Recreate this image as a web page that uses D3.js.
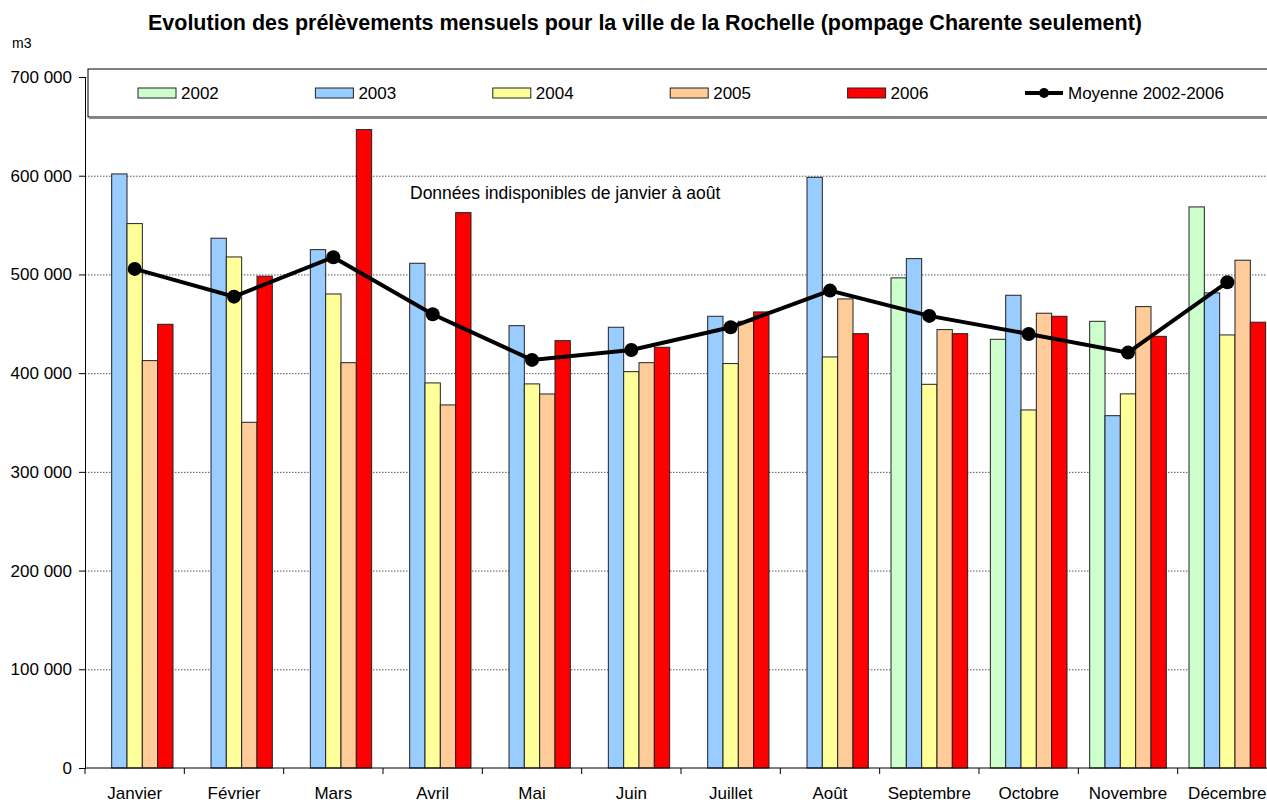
<!DOCTYPE html>
<html>
<head>
<meta charset="utf-8">
<script src="https://cdn.jsdelivr.net/npm/d3@7"></script>
<style>
  body { margin: 0; background: #fff; }
  svg { font-family: "Liberation Sans", Arial, sans-serif; display: block; }
</style>
</head>
<body>
<svg></svg>
<script>
var months = ["Janvier", "Février", "Mars", "Avril", "Mai", "Juin", "Juillet", "Août", "Septembre", "Octobre", "Novembre", "Décembre"];
var years = ["2002", "2003", "2004", "2005", "2006"];

var v2002 = [null, null, null, null, null, null, null, null, 496500, 434300, 452500, 568400];
var v2003 = [601800, 536700, 525100, 511300, 448100, 446500, 457600, 598400, 516000, 478900, 356900, 481300];
var v2004 = [551500, 517700, 480200, 390100, 389100, 401500, 409700, 416400, 388700, 362700, 379000, 438700];
var v2005 = [412700, 350200, 410600, 367800, 378900, 410600, 452500, 475200, 444100, 460700, 467400, 514400];
var v2006 = [449500, 498200, 646700, 562600, 432900, 426200, 462000, 440000, 440000, 457600, 437300, 451600];
var moyenne = [505600, 477500, 517400, 459700, 413400, 423500, 446500, 483600, 458000, 439700, 420800, 492100];
var yTicks = [0, 100000, 200000, 300000, 400000, 500000, 600000, 700000];

var series = [v2002, v2003, v2004, v2005, v2006];
var colors = ["#CCFFCC", "#99CCFF", "#FFFF99", "#FFCC99", "#FF0000"];

var width = 1267;
var height = 800;
var plotLeft = 85, plotRight = 1277, plotTop = 77, plotBottom = 768;

var svg = d3.select('svg')
  .attr('width', width)
  .attr('height', height);

var fr = d3.formatLocale({decimal: ",", thousands: " ", grouping: [3], currency: ["", " €"]});
var fmt = fr.format(",d");

var x0 = d3.scaleBand()
  .domain(months)
  .range([plotLeft, plotRight])
  .padding(0);

var x1 = d3.scaleBand()
  .domain(years)
  .range([0, x0.bandwidth()])
  .paddingInner(0)
  .paddingOuter(0.74);

var y = d3.scaleLinear()
  .domain([0, 700000])
  .range([plotBottom, plotTop]);

// dotted gridlines
svg.append('g')
  .attr('transform', 'translate(' + plotLeft + ',0)')
  .call(d3.axisLeft(y).tickValues(yTicks.slice(1)).tickSize(-(width - plotLeft)).tickFormat(''))
  .call(g => g.select('.domain').remove())
  .selectAll('line')
    .attr('stroke', '#555')
    .attr('stroke-dasharray', '1.5,1.5');

// bars
var table = months.map((m, i) => years.map((yr, j) => ({month: m, year: yr, j: j, value: series[j][i]})));

svg.append('g')
  .selectAll('g')
  .data(table)
  .enter()
  .append('g')
    .attr('transform', (d, i) => 'translate(' + x0(months[i]) + ',0)')
  .selectAll('rect')
  .data(d => d.filter(e => e.value !== null))
  .enter()
  .append('rect')
    .attr('x', d => x1(d.year))
    .attr('y', d => y(d.value))
    .attr('width', x1.bandwidth())
    .attr('height', d => y(0) - y(d.value))
    .attr('fill', d => colors[d.j])
    .attr('stroke', '#222')
    .attr('stroke-width', 1);

// y axis
var yAxis = svg.append('g')
  .attr('transform', 'translate(' + plotLeft + ',0)')
  .call(d3.axisLeft(y).tickValues(yTicks).tickSize(6).tickPadding(7).tickFormat(fmt));
yAxis.select('.domain').attr('stroke', '#000');
yAxis.selectAll('line').attr('stroke', '#000');
yAxis.selectAll('text').style('font-size', '17px').attr('fill', '#000');

// x axis: line + ticks at category edges
svg.append('line')
  .attr('x1', plotLeft).attr('x2', width)
  .attr('y1', plotBottom).attr('y2', plotBottom)
  .attr('stroke', '#000');

svg.append('g')
  .selectAll('line')
  .data(months)
  .enter()
  .append('line')
    .attr('x1', d => x0(d)).attr('x2', d => x0(d))
    .attr('y1', plotBottom).attr('y2', plotBottom + 6)
    .attr('stroke', '#000');

svg.append('g')
  .selectAll('text')
  .data(months)
  .enter()
  .append('text')
    .attr('x', d => x0(d) + x0.bandwidth() / 2)
    .attr('y', plotBottom + 31)
    .style('text-anchor', 'middle')
    .style('font-size', '17px')
    .text(d => d);

// average line
var line = d3.line()
  .x((d, i) => x0(months[i]) + x0.bandwidth() / 2)
  .y(d => y(d));

svg.append('path')
  .datum(moyenne)
  .attr('d', line)
  .attr('fill', 'none')
  .attr('stroke', '#000')
  .attr('stroke-width', 4);

svg.append('g')
  .selectAll('circle')
  .data(moyenne)
  .enter()
  .append('circle')
    .attr('cx', (d, i) => x0(months[i]) + x0.bandwidth() / 2)
    .attr('cy', d => y(d))
    .attr('r', 7)
    .attr('fill', '#000');

// note
svg.append('text')
  .attr('x', 410)
  .attr('y', 199)
  .style('font-size', '17.5px')
  .text('Données indisponibles de janvier à août');

// legend
var lg = svg.append('g');
lg.append('rect')
  .attr('x', 88).attr('y', 69)
  .attr('width', 1200).attr('height', 48)
  .attr('fill', '#fff')
  .attr('stroke', '#000');
lg.append('line')
  .attr('x1', 89).attr('x2', width)
  .attr('y1', 118).attr('y2', 118)
  .attr('stroke', '#888').attr('stroke-width', 2);

var legX = d3.scalePoint()
  .domain(years.concat(['Moyenne 2002-2006']))
  .range([138, 1025]);

years.forEach((yr, j) => {
  lg.append('rect')
    .attr('x', legX(yr)).attr('y', 88)
    .attr('width', 38).attr('height', 10)
    .attr('fill', colors[j])
    .attr('stroke', '#222');
  lg.append('text')
    .attr('x', legX(yr) + 43).attr('y', 99)
    .style('font-size', '17px')
    .text(yr);
});

var mx = legX('Moyenne 2002-2006');
lg.append('line')
  .attr('x1', mx).attr('x2', mx + 38)
  .attr('y1', 93).attr('y2', 93)
  .attr('stroke', '#000').attr('stroke-width', 4);
lg.append('circle')
  .attr('cx', mx + 19).attr('cy', 93).attr('r', 5).attr('fill', '#000');
lg.append('text')
  .attr('x', mx + 43).attr('y', 99)
  .style('font-size', '17px')
  .text('Moyenne 2002-2006');

// titles
svg.append('text')
  .attr('x', 645)
  .attr('y', 30)
  .style('text-anchor', 'middle')
  .style('font-size', '21.5px')
  .style('font-weight', 'bold')
  .text('Evolution des prélèvements mensuels pour la ville de la Rochelle (pompage Charente seulement)');

svg.append('text')
  .attr('x', 12)
  .attr('y', 48)
  .style('font-size', '14px')
  .text('m3');
</script>
</body>
</html>
